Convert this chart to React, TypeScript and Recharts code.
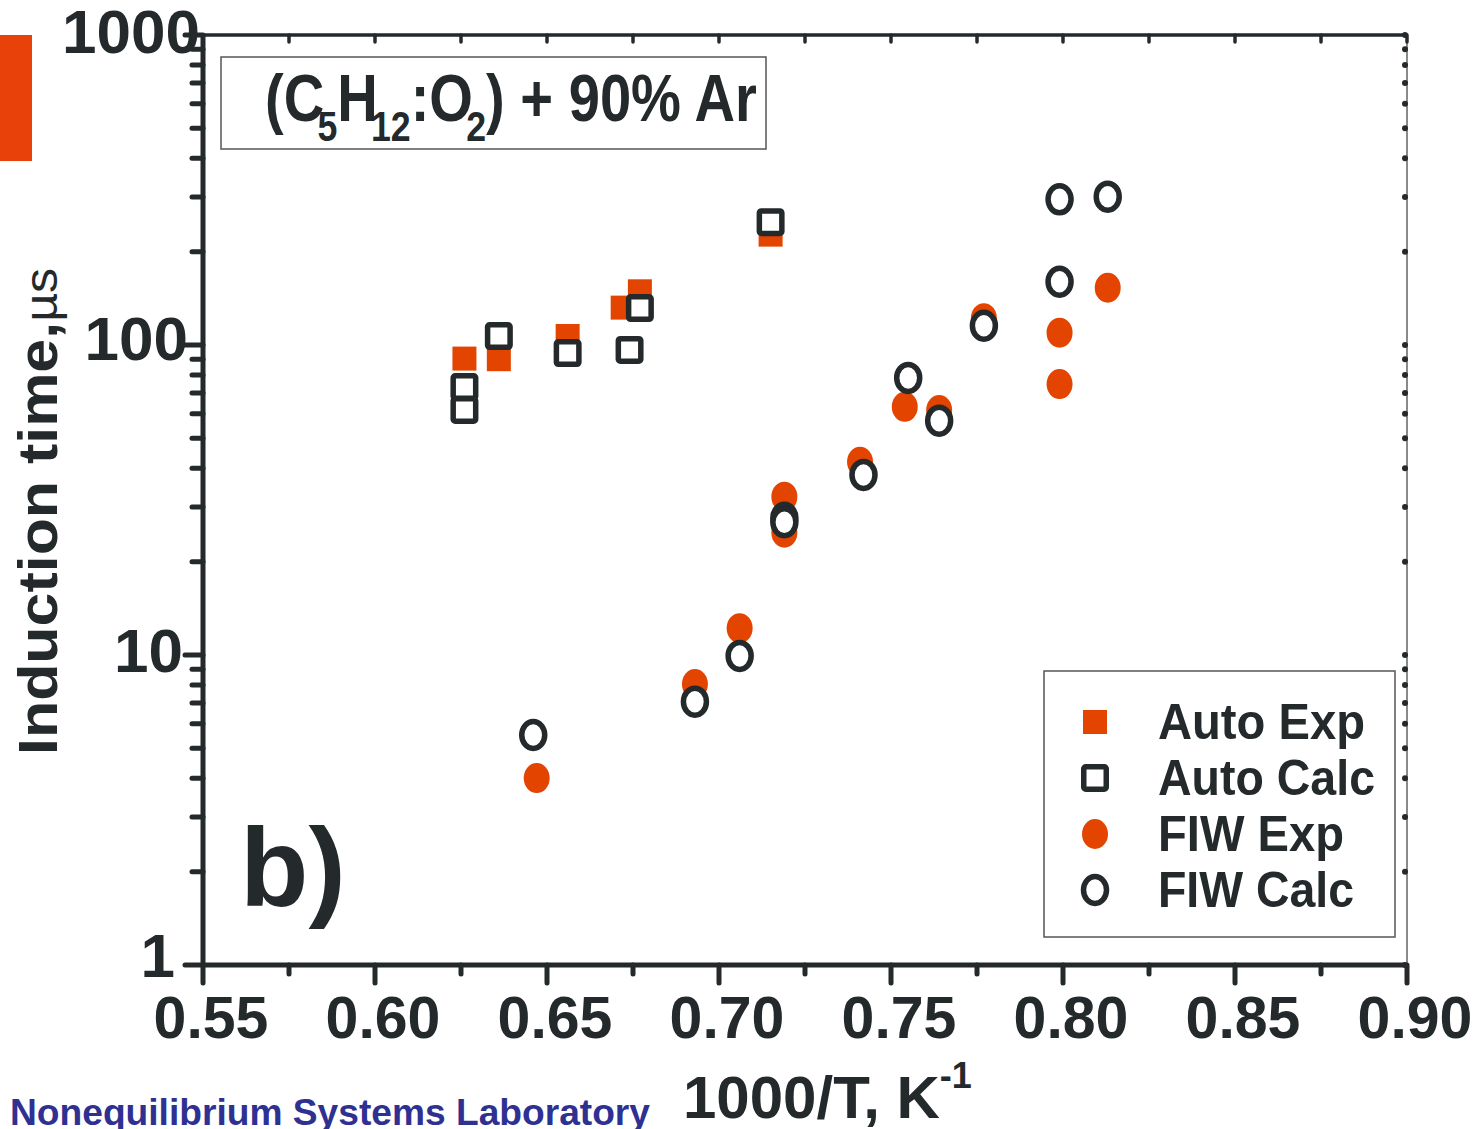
import { ScatterChart, Scatter, XAxis, YAxis } from 'recharts';

const DARK = '#24292b';
const ORANGE = '#e34400';
const FONT = '"Liberation Sans", Arial, sans-serif';

// Autoignition, experiment vs. calculation
const autoExpX = [0.626, 0.636, 0.656, 0.672, 0.677, 0.715];
const autoExpY = [90.4, 90, 106.9, 132, 149, 227];
const autoCalcX = [0.626, 0.626, 0.636, 0.656, 0.674, 0.677, 0.715];
const autoCalcY = [73.2, 61.7, 106.9, 94.2, 96.4, 131.6, 249];

// Fast ionization wave, experiment vs. calculation
const fiwExpX = [0.647, 0.693, 0.706, 0.719, 0.719, 0.741, 0.754, 0.764, 0.777, 0.799, 0.799, 0.813];
const fiwExpY = [4.01, 8.06, 12.2, 32.4, 24.8, 42.0, 63.2, 61.7, 122, 109.6, 74.8, 153];
const fiwCalcX = [0.646, 0.693, 0.706, 0.719, 0.719, 0.742, 0.755, 0.764, 0.777, 0.799, 0.813, 0.799];
const fiwCalcY = [5.52, 7.07, 9.93, 27.7, 26.8, 38.1, 78.3, 57.0, 115.4, 295, 301, 160];

const xTicks = [0.55, 0.575, 0.6, 0.625, 0.65, 0.675, 0.7, 0.725, 0.75, 0.775, 0.8, 0.825, 0.85, 0.875, 0.9];
const xLabels = ['0.55', '0.60', '0.65', '0.70', '0.75', '0.80', '0.85', '0.90'];
const yMajor = [1, 10, 100, 1000];
const yTicks = [1, 2, 3, 4, 5, 6, 7, 8, 9, 10, 20, 30, 40, 50, 60, 70, 80, 90, 100, 200, 300, 400, 500, 600, 700, 800, 900, 1000];

const pts = (xs: number[], ys: number[]) => xs.map((x, i) => ({ x, y: ys[i] }));

const autoExp = pts(autoExpX, autoExpY);
const autoCalc = pts(autoCalcX, autoCalcY);
const fiwExp = pts(fiwExpX, fiwExpY);
const fiwCalc = pts(fiwCalcX, fiwCalcY);

function SquareFilled({ cx, cy }: any) {
  return <rect x={cx - 12} y={cy - 12} width={24} height={24} fill={ORANGE} />;
}
function SquareOpen({ cx, cy }: any) {
  return <rect x={cx - 11.25} y={cy - 11.25} width={22.5} height={22.5} rx={2} fill="#fff" stroke={DARK} strokeWidth={5.5} />;
}
function OvalFilled({ cx, cy }: any) {
  return <ellipse cx={cx} cy={cy} rx={13} ry={15} fill={ORANGE} />;
}
function OvalOpen({ cx, cy }: any) {
  return <ellipse cx={cx} cy={cy} rx={11.5} ry={13.5} fill="#fff" stroke={DARK} strokeWidth={5.5} />;
}

const legendRows = [
  { name: 'Auto Exp', Shape: SquareFilled, len: 207 },
  { name: 'Auto Calc', Shape: SquareOpen, len: 217 },
  { name: 'FIW Exp', Shape: OvalFilled, len: 186 },
  { name: 'FIW Calc', Shape: OvalOpen, len: 196 },
];

// per-label nudges for the decade labels on the left axis
const yLabelDx: Record<number, number> = { 1: -28, 10: -20, 100: -15, 1000: -3 };
const yLabelDy: Record<number, number> = { 1: 12, 10: 17, 100: 15, 1000: 18 };

function LeftTick({ x, y, payload }: any) {
  const v = payload.value;
  const major = yMajor.includes(v);
  return (
    <g>
      <line x1={x} x2={x - (major ? 18 : 11)} y1={y} y2={y} stroke={DARK} strokeWidth={5} strokeLinecap="round" />
      {major && (
        <text x={x + yLabelDx[v]} y={y + yLabelDy[v]} textAnchor="end" fontFamily={FONT} fontWeight="bold" fontSize={62} fill={DARK}>
          {v}
        </text>
      )}
    </g>
  );
}

function RightTick({ x, y }: any) {
  return <circle cx={x - 2} cy={y} r={3} fill={DARK} />;
}

function BottomTick({ x, y, payload }: any) {
  const v = payload.value;
  const label = xLabels.find((l) => Math.abs(parseFloat(l) - v) < 1e-6);
  return (
    <g>
      <line x1={x} x2={x} y1={y} y2={y + (label ? 18 : 9)} stroke={DARK} strokeWidth={5} strokeLinecap="round" />
      {label && (
        <text x={x + 8} y={y + 73} textAnchor="middle" fontFamily={FONT} fontWeight="bold" fontSize={59} fill={DARK}>
          {label}
        </text>
      )}
    </g>
  );
}

function TopTick({ x, y }: any) {
  return <line x1={x} x2={x} y1={y} y2={y + 7} stroke={DARK} strokeWidth={3.5} strokeLinecap="round" />;
}

export default function App() {
  return (
    <div style={{ position: 'absolute', left: 0, top: 0, width: 1483, height: 1129, background: '#fff' }}>
      <ScatterChart width={1483} height={1129} margin={{ top: 34, right: 75, bottom: 104, left: 143 }}>
        <XAxis
          dataKey="x"
          type="number"
          domain={[0.55, 0.9]}
          ticks={xTicks}
          interval={0}
          height={60}
          tickSize={0}
          tickMargin={0}
          tickLine={false}
          axisLine={{ stroke: DARK, strokeWidth: 5 }}
          tick={<BottomTick />}
          allowDataOverflow
        />
        <XAxis
          xAxisId="top"
          dataKey="x"
          orientation="top"
          type="number"
          domain={[0.55, 0.9]}
          ticks={xTicks}
          interval={0}
          height={1}
          tickSize={0}
          tickMargin={0}
          tickLine={false}
          axisLine={{ stroke: DARK, strokeWidth: 3.5 }}
          tick={<TopTick />}
          allowDataOverflow
        />
        <YAxis
          dataKey="y"
          type="number"
          scale="log"
          domain={[1, 1000]}
          ticks={yTicks}
          interval={0}
          width={60}
          tickSize={0}
          tickMargin={0}
          tickLine={false}
          axisLine={{ stroke: DARK, strokeWidth: 5 }}
          tick={<LeftTick />}
          allowDataOverflow
        />
        <YAxis
          yAxisId="right"
          dataKey="y"
          orientation="right"
          type="number"
          scale="log"
          domain={[1, 1000]}
          ticks={yTicks}
          interval={0}
          width={1}
          tickSize={0}
          tickMargin={0}
          tickLine={false}
          axisLine={{ stroke: '#8a8a8a', strokeWidth: 2 }}
          tick={<RightTick />}
          allowDataOverflow
        />
        <Scatter name="Auto Exp" data={autoExp} shape={<SquareFilled />} isAnimationActive={false} />
        <Scatter name="FIW Exp" data={fiwExp} shape={<OvalFilled />} isAnimationActive={false} />
        {/* the calculated series sit on the top/right axes, which share the same scales */}
        <Scatter name="Auto Calc" data={autoCalc} xAxisId="top" yAxisId="right" shape={<SquareOpen />} isAnimationActive={false} />
        <Scatter name="FIW Calc" data={fiwCalc} xAxisId="top" yAxisId="right" shape={<OvalOpen />} isAnimationActive={false} />
      </ScatterChart>

      <svg width={1483} height={1129} style={{ position: 'absolute', left: 0, top: 0, pointerEvents: 'none' }}>
        <rect x={0} y={35} width={32} height={126} fill="#e8420a" />

        <rect x={221} y={57} width={545} height={92} fill="#fff" stroke="#555" strokeWidth={1.5} />
        <g transform="translate(265,121) scale(0.85,1)">
          <text x={0} y={0} fontFamily={FONT} fontWeight="bold" fontSize={66} fill={DARK}>
            (C
            <tspan dx={-8} dy={20} fontSize={42}>5</tspan>
            <tspan dy={-20}>H</tspan>
            <tspan dx={-8} dy={20} fontSize={42}>12</tspan>
            <tspan dy={-20}>:O</tspan>
            <tspan dx={-8} dy={20} fontSize={42}>2</tspan>
            <tspan dy={-20}>) + 90% Ar</tspan>
          </text>
        </g>

        <text x={240} y={906} fontFamily={FONT} fontWeight="bold" fontSize={112} fill={DARK}>b)</text>

        <rect x={1044} y={671} width={351} height={266} fill="#fff" stroke="#555" strokeWidth={1.5} />
        {legendRows.map((r, i) => {
          const cy = 722 + i * 56;
          return (
            <g key={r.name}>
              <r.Shape cx={1095} cy={cy} />
              <text
                x={1158}
                y={cy + 17}
                fontFamily={FONT}
                fontWeight="bold"
                fontSize={50}
                fill={DARK}
                textLength={r.len}
                lengthAdjust="spacingAndGlyphs"
              >
                {r.name}
              </text>
            </g>
          );
        })}

        <text
          transform="translate(57,755) rotate(-90)"
          fontFamily={FONT}
          fontWeight="bold"
          fontSize={56}
          fill={DARK}
          textLength={487}
          lengthAdjust="spacingAndGlyphs"
        >
          Induction time,<tspan fontWeight="normal" fontSize={46}>µs</tspan>
        </text>

        <text x={683} y={1118} fontFamily={FONT} fontWeight="bold" fontSize={60} fill={DARK}>
          1000/T, K<tspan dy={-30} fontSize={36}>-1</tspan>
        </text>

        <text x={10} y={1125} fontFamily={FONT} fontWeight="bold" fontSize={36} fill="#2e3192" textLength={640} lengthAdjust="spacingAndGlyphs">
          Nonequilibrium Systems Laboratory
        </text>
      </svg>
    </div>
  );
}
